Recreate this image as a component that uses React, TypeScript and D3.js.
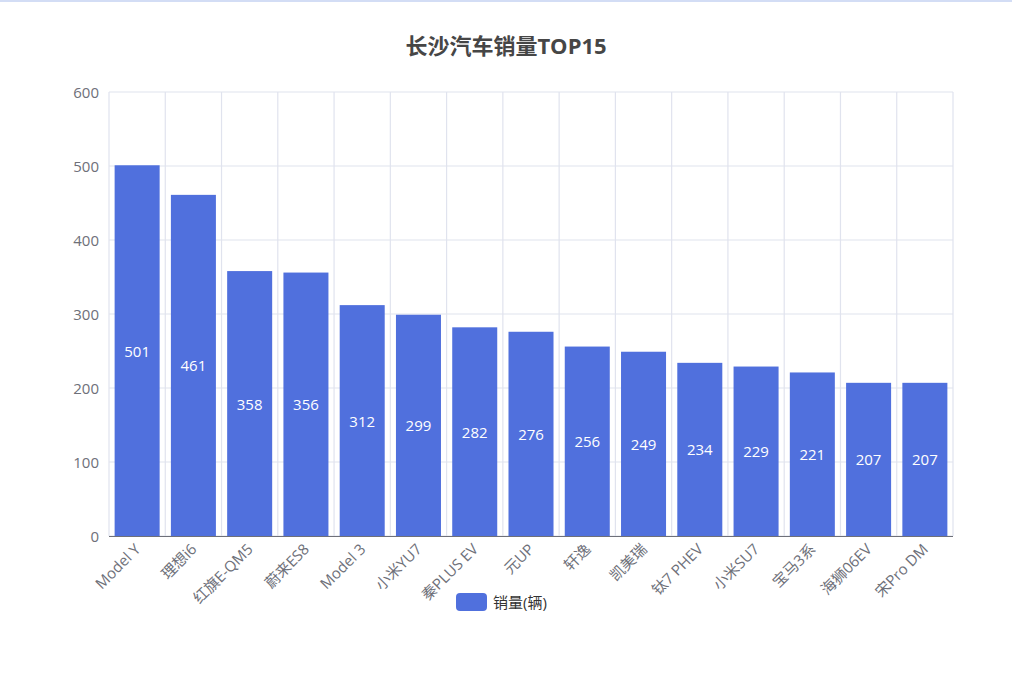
import { useEffect, useRef } from 'react';
import * as d3 from 'd3';

// data
const models = [
  'Model Y',
  '理想i6',
  '红旗E-QM5',
  '蔚来ES8',
  'Model 3',
  '小米YU7',
  '秦PLUS EV',
  '元UP',
  '轩逸',
  '凯美瑞',
  '钛7 PHEV',
  '小米SU7',
  '宝马3系',
  '海狮06EV',
  '宋Pro DM',
];
const sales = [501, 461, 358, 356, 312, 299, 282, 276, 256, 249, 234, 229, 221, 207, 207];
const yTicks = [0, 100, 200, 300, 400, 500, 600];
const seriesName = '销量(辆)';
const chartTitle = '长沙汽车销量TOP15';

const FONT = '"Open Sans", "Noto Sans CJK SC", sans-serif';

const SalesChart: React.FC = () => {
  const svgRef = useRef<SVGSVGElement | null>(null);

  useEffect(() => {
    if (!svgRef.current) return;

    const width = 1012;
    const height = 679;
    const margin = { top: 92, right: 59, bottom: 143, left: 109 };
    const innerW = width - margin.left - margin.right;
    const innerH = height - margin.top - margin.bottom;

    const root = d3.select(svgRef.current);
    root.selectAll('*').remove();
    root.attr('width', width).attr('height', height);

    // thin band along the top of the page
    root.append('rect').attr('x', 0).attr('y', 0).attr('width', width).attr('height', 2).attr('fill', '#d3ddf5');

    root
      .append('text')
      .attr('x', width / 2)
      .attr('y', 45)
      .attr('text-anchor', 'middle')
      .attr('dominant-baseline', 'central')
      .style('font-family', FONT)
      .style('font-size', '22px')
      .style('font-weight', 'bold')
      .attr('fill', '#464646')
      .text(chartTitle);

    const g = root.append('g').attr('transform', `translate(${margin.left}, ${margin.top})`);

    const x = d3.scaleBand().domain(models).range([0, innerW]).paddingInner(0.2).paddingOuter(0.1);
    const y = d3.scaleLinear().domain([0, 600]).range([innerH, 0]);
    const step = x.step();

    // horizontal split lines
    g.selectAll('.hgrid')
      .data(yTicks)
      .join('line')
      .attr('x1', 0)
      .attr('x2', innerW)
      .attr('y1', (d) => y(d))
      .attr('y2', (d) => y(d))
      .attr('stroke', '#e0e3ee')
      .attr('stroke-width', 1.2);

    // vertical split lines at category boundaries
    g.selectAll('.vgrid')
      .data(d3.range(models.length + 1))
      .join('line')
      .attr('x1', (i) => i * step)
      .attr('x2', (i) => i * step)
      .attr('y1', 0)
      .attr('y2', innerH)
      .attr('stroke', '#e0e3ee')
      .attr('stroke-width', 1.2);

    // y labels
    g.selectAll('.ylab')
      .data(yTicks)
      .join('text')
      .attr('x', -10)
      .attr('y', (d) => y(d))
      .attr('text-anchor', 'end')
      .attr('dominant-baseline', 'central')
      .style('font-family', FONT)
      .style('font-size', '15px')
      .attr('fill', '#6e7079')
      .text((d) => d);

    // bars
    g.selectAll('.bar')
      .data(sales)
      .join('rect')
      .attr('x', (_, i) => x(models[i])!)
      .attr('y', (d) => y(d))
      .attr('width', x.bandwidth())
      .attr('height', (d) => innerH - y(d))
      .attr('fill', '#5070dd');

    // value labels inside bars
    g.selectAll('.val')
      .data(sales)
      .join('text')
      .attr('x', (_, i) => x(models[i])! + x.bandwidth() / 2)
      .attr('y', (d) => (y(d) + innerH) / 2)
      .attr('text-anchor', 'middle')
      .attr('dominant-baseline', 'central')
      .style('font-family', FONT)
      .style('font-size', '15px')
      .attr('fill', '#ffffff')
      .text((d) => d);

    // x axis line
    g.append('line')
      .attr('x1', 0)
      .attr('x2', innerW)
      .attr('y1', innerH + 0.5)
      .attr('y2', innerH + 0.5)
      .attr('stroke', '#6e7079')
      .attr('stroke-width', 1.2);

    // rotated category labels
    g.selectAll('.xlab')
      .data(models)
      .join('text')
      .attr('transform', (d) => `translate(${x(d)! + x.bandwidth() / 2}, ${innerH + 10}) rotate(-45)`)
      .attr('text-anchor', 'end')
      .attr('dominant-baseline', 'central')
      .style('font-family', FONT)
      .style('font-size', '15px')
      .attr('fill', '#6e7079')
      .text((d) => d);

    // legend
    const legend = root.append('g').attr('transform', 'translate(456, 593)');
    legend.append('rect').attr('width', 31).attr('height', 18).attr('rx', 4).attr('fill', '#5070dd');
    legend
      .append('text')
      .attr('x', 37)
      .attr('y', 9)
      .attr('dominant-baseline', 'central')
      .style('font-family', FONT)
      .style('font-size', '15px')
      .attr('fill', '#333333')
      .text(seriesName);
  }, []);

  return <svg ref={svgRef} style={{ position: 'absolute', left: 0, top: 0, display: 'block' }} />;
};

export default function App() {
  return <SalesChart />;
}
